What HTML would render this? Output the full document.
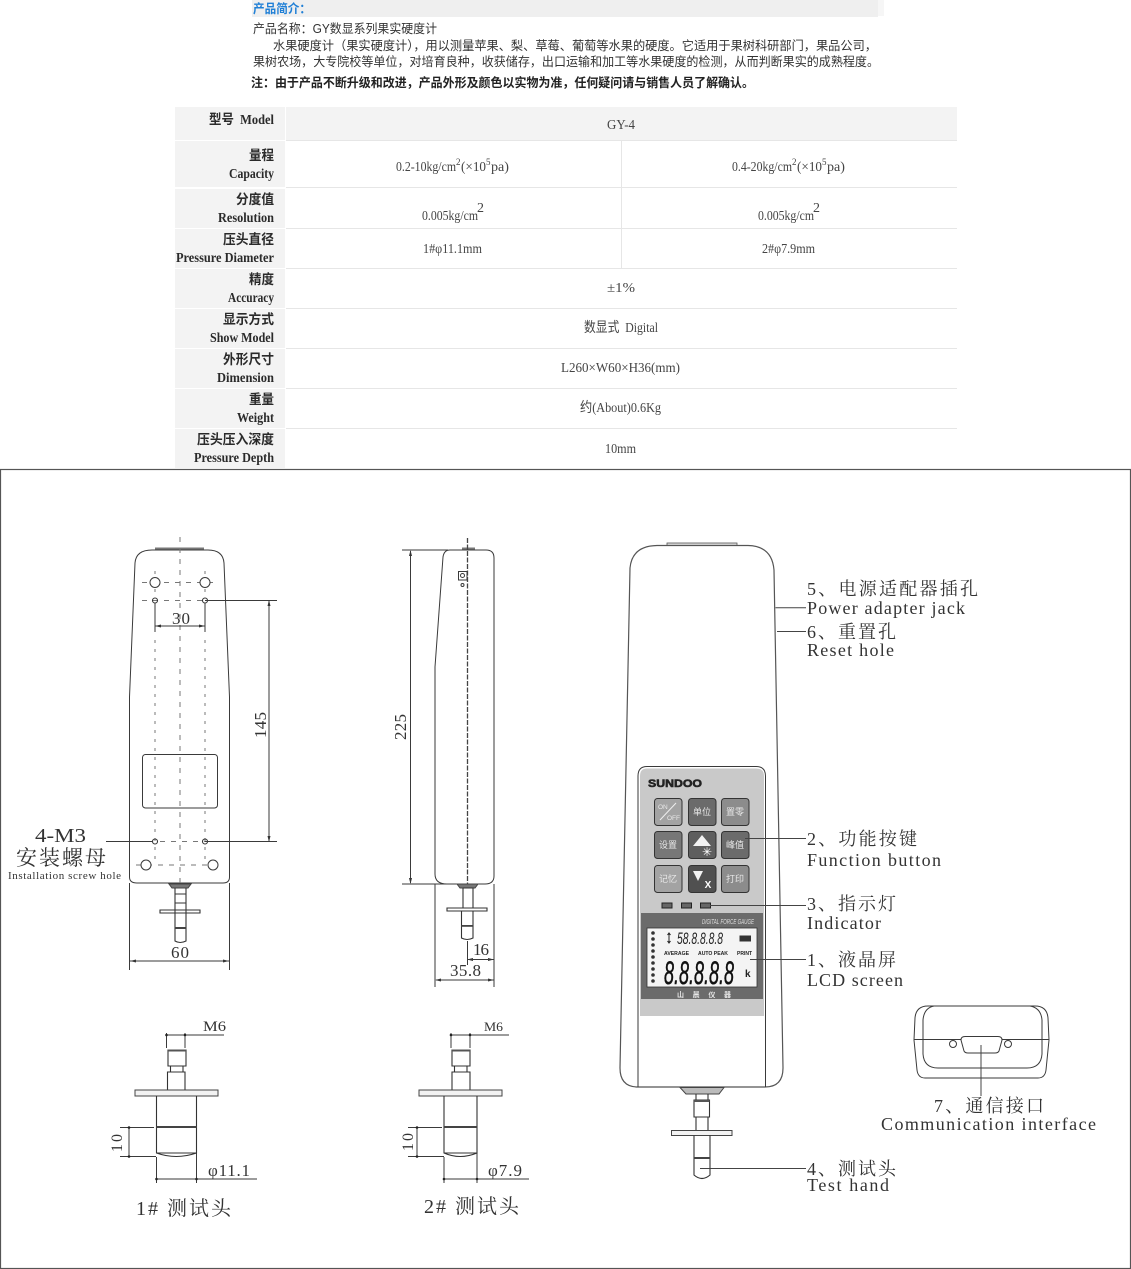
<!DOCTYPE html>
<html><head><meta charset="utf-8"><style>
html,body{margin:0;padding:0;background:#fff}
svg{display:block}
.c{font-family:"Liberation Sans","Noto Sans CJK SC",sans-serif;font-size:12.500px;fill:#333}
.h{font-family:"Liberation Serif","Noto Sans CJK SC",serif;font-weight:bold;font-size:13.500px;fill:#2a2a2a;text-anchor:end}
.v{font-family:"Liberation Serif","Noto Sans CJK SC",serif;font-size:14px;fill:#444}
.d{font-family:"Liberation Serif","Noto Serif CJK SC",serif;font-size:18px;fill:#333}
.l{fill:none;stroke:#3a3a3a;stroke-width:1}
.w{fill:#fff;stroke:#3a3a3a;stroke-width:1}
.t{fill:none;stroke:#333;stroke-width:1.100}
.m{fill:none;stroke:#777;stroke-width:1;stroke-dasharray:5 6}
.n{fill:none;stroke:#777;stroke-width:1;stroke-dasharray:3 6}
.b{font-family:"Liberation Sans","Noto Sans CJK SC",sans-serif;font-size:9px;fill:#e8e8e8;text-anchor:middle}
</style></head><body>
<svg xmlns="http://www.w3.org/2000/svg" width="1131" height="1269" viewBox="0 0 1131 1269">
<rect width="1131" height="1269" fill="#fff"/>

<!-- intro -->
<rect x="252" y="0" width="626" height="17" fill="#efefef"/>
<rect x="878" y="0" width="6" height="16" fill="#f6f6f6"/>
<text x="253" y="13" class="c" style="font-weight:bold;fill:#1f7fd6" textLength="58" lengthAdjust="spacingAndGlyphs">产品简介：</text>
<text x="253" y="33" class="c" textLength="184" lengthAdjust="spacingAndGlyphs">产品名称：GY数显系列果实硬度计</text>
<text x="273" y="50" class="c" textLength="604" lengthAdjust="spacingAndGlyphs">水果硬度计（果实硬度计），用以测量苹果、梨、草莓、葡萄等水果的硬度。它适用于果树科研部门，果品公司，</text>
<text x="253" y="66" class="c" textLength="626" lengthAdjust="spacingAndGlyphs">果树农场，大专院校等单位，对培育良种，收获储存，出口运输和加工等水果硬度的检测，从而判断果实的成熟程度。</text>
<text x="251" y="87" class="c" style="font-weight:bold;fill:#222" textLength="503" lengthAdjust="spacingAndGlyphs">注：由于产品不断升级和改进，产品外形及颜色以实物为准，任何疑问请与销售人员了解确认。</text>

<!-- table -->
<rect x="286" y="107" width="671" height="33" fill="#f3f3f3"/>
<g fill="#f3f3f3">
<rect x="175" y="107" width="110" height="33"/><rect x="175" y="141" width="110" height="46"/><rect x="175" y="189" width="110" height="39"/>
<rect x="175" y="229" width="110" height="39"/><rect x="175" y="269" width="110" height="39"/><rect x="175" y="309" width="110" height="39"/>
<rect x="175" y="349" width="110" height="39"/><rect x="175" y="389" width="110" height="39"/><rect x="175" y="429" width="110" height="39"/>
</g>
<g stroke="#e6e6e6" stroke-width="1">
<path d="M286 140.500H957M286 187.500H957M286 228.500H957M286 268.500H957M286 308.500H957M286 348.500H957M286 388.500H957M286 428.500H957M621.500 141V268"/>
</g>
<text x="274" y="124" class="h" textLength="65" lengthAdjust="spacingAndGlyphs">型号&#160; Model</text>
<text x="274" y="160" class="h" textLength="25" lengthAdjust="spacingAndGlyphs">量程</text>
<text x="274" y="178" class="h" textLength="45" lengthAdjust="spacingAndGlyphs">Capacity</text>
<text x="274" y="204" class="h" textLength="38" lengthAdjust="spacingAndGlyphs">分度值</text>
<text x="274" y="222" class="h" textLength="56" lengthAdjust="spacingAndGlyphs">Resolution</text>
<text x="274" y="244" class="h" textLength="51" lengthAdjust="spacingAndGlyphs">压头直径</text>
<text x="274" y="262" class="h" textLength="98" lengthAdjust="spacingAndGlyphs">Pressure Diameter</text>
<text x="274" y="284" class="h" textLength="25" lengthAdjust="spacingAndGlyphs">精度</text>
<text x="274" y="302" class="h" textLength="46" lengthAdjust="spacingAndGlyphs">Accuracy</text>
<text x="274" y="324" class="h" textLength="51" lengthAdjust="spacingAndGlyphs">显示方式</text>
<text x="274" y="342" class="h" textLength="64" lengthAdjust="spacingAndGlyphs">Show Model</text>
<text x="274" y="364" class="h" textLength="51" lengthAdjust="spacingAndGlyphs">外形尺寸</text>
<text x="274" y="382" class="h" textLength="57" lengthAdjust="spacingAndGlyphs">Dimension</text>
<text x="274" y="404" class="h" textLength="25" lengthAdjust="spacingAndGlyphs">重量</text>
<text x="274" y="422" class="h" textLength="37" lengthAdjust="spacingAndGlyphs">Weight</text>
<text x="274" y="444" class="h" textLength="77" lengthAdjust="spacingAndGlyphs">压头压入深度</text>
<text x="274" y="462" class="h" textLength="80" lengthAdjust="spacingAndGlyphs">Pressure Depth</text>

<text x="607" y="129" class="v" textLength="28" lengthAdjust="spacingAndGlyphs">GY-4</text>
<text x="396" y="171" class="v" textLength="60" lengthAdjust="spacingAndGlyphs">0.2-10kg/cm</text><text x="456" y="165" class="v" style="font-size:9px">2</text><text x="461" y="171" class="v" textLength="25" lengthAdjust="spacingAndGlyphs">(×10</text><text x="486" y="165" class="v" style="font-size:9px">5</text><text x="491" y="171" class="v" textLength="18" lengthAdjust="spacingAndGlyphs">pa)</text>
<text x="732" y="171" class="v" textLength="60" lengthAdjust="spacingAndGlyphs">0.4-20kg/cm</text><text x="792" y="165" class="v" style="font-size:9px">2</text><text x="797" y="171" class="v" textLength="25" lengthAdjust="spacingAndGlyphs">(×10</text><text x="822" y="165" class="v" style="font-size:9px">5</text><text x="827" y="171" class="v" textLength="18" lengthAdjust="spacingAndGlyphs">pa)</text>
<text x="422" y="220" class="v" textLength="56" lengthAdjust="spacingAndGlyphs">0.005kg/cm</text><text x="477" y="212" class="v" style="font-size:14px">2</text>
<text x="758" y="220" class="v" textLength="56" lengthAdjust="spacingAndGlyphs">0.005kg/cm</text><text x="813" y="212" class="v" style="font-size:14px">2</text>
<text x="423" y="253" class="v" textLength="59" lengthAdjust="spacingAndGlyphs">1#φ11.1mm</text>
<text x="762" y="253" class="v" textLength="53" lengthAdjust="spacingAndGlyphs">2#φ7.9mm</text>
<text x="607" y="292" class="v" textLength="28" lengthAdjust="spacingAndGlyphs">±1%</text>
<text x="584" y="332" class="v" textLength="74" lengthAdjust="spacingAndGlyphs">数显式&#160; Digital</text>
<text x="561" y="372" class="v" textLength="119" lengthAdjust="spacingAndGlyphs">L260×W60×H36(mm)</text>
<text x="580" y="412" class="v" textLength="81" lengthAdjust="spacingAndGlyphs">约(About)0.6Kg</text>
<text x="605" y="453" class="v" textLength="31" lengthAdjust="spacingAndGlyphs">10mm</text>

<!-- drawing frame -->
<rect x="0.500" y="469.500" width="1130" height="799" fill="#fff" stroke="#555" stroke-width="1.200"/>

<!-- FRONT BACK VIEW -->
<rect x="155" y="547.500" width="49" height="3" fill="#777"/>
<path class="l" d="M135 563Q136 550 152 550H208Q223 550 224 563L229.500 697V877Q229.500 883 223 883H137Q129.500 883 129.500 877V697Z"/>
<path class="m" d="M180 537V884"/>
<path class="n" d="M155 571V598M205 571V598M155 640V860M205 640V860"/>
<path class="m" d="M142 582.500H218M142 600.500H218M160 841.500H205M136 865H222"/>
<circle cx="155" cy="582.500" r="5" class="w"/><circle cx="205" cy="582.500" r="5" class="w"/>
<circle cx="155" cy="600.500" r="2.500" class="t" fill="#ccc"/><circle cx="205" cy="600.500" r="2.500" class="t"/>
<circle cx="155" cy="841.500" r="2.500" class="t"/><circle cx="205" cy="841.500" r="2.500" class="t"/>
<circle cx="146" cy="865" r="5" class="w"/><circle cx="213" cy="865" r="5" class="w"/>
<rect x="142.500" y="754.500" width="75" height="53.500" rx="3" class="l"/>
<path class="l" d="M205 600.500H277M205 841.500H277M269 601V841M155 603V632M205 603V632M155 626H205M106 841.500H153"/>
<path d="M269 600l-1.500 6h3zM269 842l-1.500-6h3zM155 626l6-1.500v3zM205 626l-6-1.500v3zM130 961l6-1.500v3zM229 961l-6-1.500v3z" fill="#333"/>
<text transform="translate(266,725) rotate(-90)" class="d" style="font-size:17px;text-anchor:middle" textLength="26" lengthAdjust="spacing">145</text>
<text x="172" y="624" class="d" style="font-size:17px" textLength="18">30</text>
<text x="35" y="842" class="d" style="font-size:20px" textLength="51" lengthAdjust="spacingAndGlyphs">4-M3</text>
<text x="16" y="865" class="d" style="font-size:21px" textLength="90" lengthAdjust="spacing">安装螺母</text>
<text x="8" y="879" class="d" style="font-size:11px" textLength="113" lengthAdjust="spacing">Installation screw hole</text>
<path d="M169 884H191L188 888H172Z" fill="#777" stroke="#444"/>
<path class="t" d="M175 888V941Q180 944 186 941V888M160 910H200V913H160ZM175 894H186M175 903H186"/>
<rect x="175" y="927" width="11" height="2" fill="#444"/>
<path class="l" d="M129.500 883V970M229.500 883V970M130 961H229"/>
<text x="171" y="958" class="d" style="font-size:17px" textLength="18">60</text>

<!-- SIDE VIEW -->
<rect x="462" y="547.500" width="13" height="3" fill="#777"/>
<path class="l" d="M443 557Q444 550 450 550H486Q494 550 494 558V876Q494 884 485 884H447Q435 884 435 874V667Z"/>
<path d="M467.500 538V884" fill="none" stroke="#444" stroke-width="1.300" stroke-dasharray="5 1.500"/>
<rect x="458.500" y="571.500" width="8.500" height="8.500" class="l"/><circle cx="462.500" cy="575.500" r="2" class="l"/><circle cx="462.500" cy="585" r="1.500" class="l"/>
<path class="l" d="M402 550H448M402 884H458M410.500 551V883"/>
<path d="M410.500 550l-1.500 6h3zM410.500 884l-1.500-6h3zM467 959.500l6-1.500v3zM494 959.500l-6-1.500v3zM435 980l6-1.500v3zM494 980l-6-1.500v3z" fill="#333"/>
<text transform="translate(406,727) rotate(-90)" class="d" style="font-size:17px;text-anchor:middle" textLength="26" lengthAdjust="spacing">225</text>
<path d="M457 884H478L475 888H460Z" fill="#777" stroke="#444"/>
<path class="t" d="M463 888H473V908M463 888V908M447 908H487V911H447ZM461.500 911V938Q467 941 473 938V911"/>
<rect x="461.500" y="925" width="11.500" height="1.800" fill="#444"/>
<path class="l" d="M467.500 941V965M435 884V987M494 884V987M468 959.500H494M436 980H494"/>
<text x="473" y="955" class="d" style="font-size:17px" textLength="16">16</text>
<text x="450" y="976" class="d" style="font-size:17px" textLength="31">35.8</text>

<!-- PROBE 1 -->
<g>
<path class="l" d="M166.500 1033V1048M185 1033V1048M166 1035H224M156.500 1157V1183M196.500 1153V1183M156 1179H257M120 1127.500H154M120 1156.500H156M129 1128V1156"/>
<circle cx="166.500" cy="1035" r="1.300" fill="#222"/><circle cx="185" cy="1035" r="1.300" fill="#222"/><circle cx="129" cy="1127.500" r="1.300" fill="#222"/><circle cx="129" cy="1156.500" r="1.300" fill="#222"/><circle cx="156.500" cy="1179" r="1.300" fill="#222"/><circle cx="196.500" cy="1179" r="1.300" fill="#222"/>
<path class="t" d="M168 1050H186V1066H168ZM170.500 1066V1072M183 1066V1072M167.500 1072H185V1090H167.500Z"/>
<rect x="168" y="1049.500" width="18" height="2" fill="#555"/>
<rect x="135" y="1090" width="83" height="6" fill="#f2f2f2" stroke="#444"/>
<path class="t" d="M156.500 1096V1153Q176 1160 196.500 1153V1096M156.500 1153H196.500"/>
<rect x="156.500" y="1126" width="40" height="2" fill="#444"/>
<text x="203" y="1031" class="d" style="font-size:15px" textLength="23" lengthAdjust="spacingAndGlyphs">M6</text>
<text transform="translate(122,1143) rotate(-90)" class="d" style="font-size:16px;text-anchor:middle" textLength="18">10</text>
<text x="208" y="1176" class="d" style="font-size:17px" textLength="42">φ11.1</text>
<text x="136" y="1215" class="d" style="font-size:20px" textLength="95" lengthAdjust="spacing">1# 测试头</text>
</g>

<!-- PROBE 2 -->
<g>
<path class="l" d="M451 1033V1048M470 1033V1048M451 1035H509M444 1157V1183M477 1153V1183M444 1179H529M408 1127.500H442M408 1156.500H444M417 1128V1156"/>
<circle cx="451" cy="1035" r="1.300" fill="#222"/><circle cx="470" cy="1035" r="1.300" fill="#222"/><circle cx="417" cy="1127.500" r="1.300" fill="#222"/><circle cx="417" cy="1156.500" r="1.300" fill="#222"/><circle cx="444" cy="1179" r="1.300" fill="#222"/><circle cx="477" cy="1179" r="1.300" fill="#222"/>
<path class="t" d="M452 1050H470V1066H452ZM454.500 1066V1072M467 1066V1072M452 1072H470V1090H452Z"/>
<rect x="452" y="1049.500" width="18" height="2" fill="#555"/>
<rect x="419" y="1090" width="83" height="6" fill="#f2f2f2" stroke="#444"/>
<path class="t" d="M444 1096V1153Q460 1160 477 1153V1096M444 1153H477"/>
<rect x="444" y="1126" width="33" height="2" fill="#444"/>
<text x="484" y="1031" class="d" style="font-size:13px" textLength="19" lengthAdjust="spacingAndGlyphs">M6</text>
<text transform="translate(413,1142) rotate(-90)" class="d" style="font-size:16px;text-anchor:middle" textLength="18">10</text>
<text x="488" y="1176" class="d" style="font-size:17px" textLength="34">φ7.9</text>
<text x="424" y="1213" class="d" style="font-size:20px" textLength="95" lengthAdjust="spacing">2# 测试头</text>
</g>

<!-- MAIN DEVICE -->
<rect x="667" y="543" width="70" height="3" fill="#ddd" stroke="#555" stroke-width="0.800"/>
<path d="M630 568Q632 546 657 545.500H748Q772 546 774 570L783 1068Q783 1087 765 1087H638Q620 1087 620 1068Z" fill="#fff" stroke="#555" stroke-width="1.200"/>
<path class="l" d="M638 1087V776Q638 766.500 647 766.500H756Q765.500 766.500 765.500 776V1087"/>
<path d="M640 776Q640 768.500 647 768.500H756Q764 768.500 764 776V1016H640Z" fill="#c9c9c9"/>
<text x="648" y="787" style="font-family:'Liberation Sans',sans-serif;font-weight:bold;font-size:11px;fill:#222;stroke:#222;stroke-width:.6" textLength="54" lengthAdjust="spacingAndGlyphs">SUNDOO</text>

<g stroke="#333" stroke-width="1">
<rect x="654.500" y="798.500" width="27.500" height="27" rx="3" fill="#a3a3a3"/>
<rect x="688.500" y="798.500" width="27.500" height="27" rx="3" fill="#6b6b6b"/>
<rect x="721.500" y="798.500" width="27.500" height="27" rx="3" fill="#8c8c8c"/>
<rect x="654.500" y="831.500" width="27.500" height="27" rx="3" fill="#777"/>
<rect x="688.500" y="831.500" width="27.500" height="27" rx="3" fill="#5e5e5e"/>
<rect x="721.500" y="831.500" width="27.500" height="27" rx="3" fill="#6b6b6b"/>
<rect x="654.500" y="865.500" width="27.500" height="27" rx="3" fill="#a3a3a3"/>
<rect x="688.500" y="865.500" width="27.500" height="27" rx="3" fill="#505050"/>
<rect x="721.500" y="865.500" width="27.500" height="27" rx="3" fill="#8c8c8c"/>
</g>
<path d="M660 820L676 803" stroke="#eee" stroke-width="1"/>
<text x="658" y="809" class="b" style="font-size:6.500px;text-anchor:start">ON</text>
<text x="667" y="820" class="b" style="font-size:6.500px;text-anchor:start">OFF</text>
<text x="702" y="815" class="b">单位</text><text x="735" y="815" class="b">置零</text>
<text x="668" y="848" class="b">设置</text><text x="735" y="848" class="b">峰值</text>
<text x="668" y="882" class="b">记忆</text><text x="735" y="882" class="b">打印</text>
<path d="M693 846L702 835L711 846Z" fill="#f2f2f2"/>
<text x="707" y="856" class="b" style="font-size:12px;fill:#fff">✳</text>
<path d="M693 871H703L698 881Z" fill="#f2f2f2"/>
<text x="708" y="888" class="b" style="font-size:10px;font-weight:bold;fill:#fff">X</text>

<rect x="662" y="903" width="10" height="5" fill="#666" stroke="#222"/>
<rect x="681.500" y="903" width="10" height="5" fill="#666" stroke="#222"/>
<rect x="700.500" y="903" width="10" height="5" fill="#666" stroke="#222"/>
<rect x="641" y="913" width="122" height="86" fill="#6b6b6b"/>
<text x="702" y="924" style="font-family:'Liberation Sans',sans-serif;font-style:italic;font-size:7px;fill:#ddd" textLength="52" lengthAdjust="spacingAndGlyphs">DIGITAL FORCE GAUGE</text>
<rect x="647" y="928" width="110" height="59" fill="#f4f4f4" stroke="#333" stroke-width="0.800"/>
<g fill="#333"><circle cx="653" cy="933" r="1.800"/><circle cx="653" cy="939" r="1.800"/><circle cx="653" cy="945" r="1.800"/><circle cx="653" cy="951" r="1.800"/><circle cx="653" cy="957" r="1.800"/><circle cx="653" cy="963" r="1.800"/><circle cx="653" cy="969" r="1.800"/><circle cx="653" cy="975" r="1.800"/><circle cx="653" cy="981" r="1.800"/></g>
<text x="677" y="944" style="font-family:'Liberation Sans',sans-serif;font-style:italic;font-size:17px;fill:#222" textLength="46" lengthAdjust="spacingAndGlyphs">58.8.8.8.8</text>
<path d="M669 933V943M667.500 935L669 933L670.500 935M667.500 941L669 943L670.500 941" stroke="#222" fill="none"/>
<rect x="739.500" y="935.500" width="11.500" height="6" fill="#333"/>
<text x="664" y="955" style="font-family:'Liberation Sans',sans-serif;font-weight:bold;font-size:5px;fill:#222" textLength="25" lengthAdjust="spacingAndGlyphs">AVERAGE</text>
<text x="698" y="955" style="font-family:'Liberation Sans',sans-serif;font-weight:bold;font-size:5px;fill:#222" textLength="30" lengthAdjust="spacingAndGlyphs">AUTO PEAK</text>
<text x="737" y="955" style="font-family:'Liberation Sans',sans-serif;font-weight:bold;font-size:5px;fill:#222" textLength="15" lengthAdjust="spacingAndGlyphs">PRINT</text>
<text x="664" y="984" style="font-family:'Liberation Sans',sans-serif;font-style:italic;font-size:32px;fill:#111;stroke:#111;stroke-width:.5" textLength="70" lengthAdjust="spacingAndGlyphs">8.8.8.8.8</text>
<text x="745" y="977" style="font-family:'Liberation Sans',sans-serif;font-weight:bold;font-size:10px;fill:#222">k</text>
<text x="704" y="997" class="b" style="font-size:7px;font-weight:bold" textLength="54" lengthAdjust="spacing">山 晨 仪 器</text>

<!-- device probe -->
<path d="M680 1087.500H724L719 1094H686Z" fill="#bbb" stroke="#444"/>
<path class="t" d="M694 1100H709.500V1117H694ZM696 1117V1130M708 1117V1130M696 1094V1100M708 1094V1100"/>
<rect x="694" y="1100" width="15.500" height="2" fill="#555"/>
<rect x="671.500" y="1130.500" width="60.500" height="5" fill="#f2f2f2" stroke="#444"/>
<path class="t" d="M694 1135.500V1175Q702 1182 710 1175V1135.500"/>
<rect x="694" y="1157" width="16" height="2" fill="#444"/>

<!-- leaders -->
<path d="M775.500 607.700H806M777 631.500H806M745 838.500H806M710 905.500H806M750 959.500H806M700 1168.500H806" fill="none" stroke="#444" stroke-width="1"/>

<!-- leader labels -->
<text x="807" y="595" class="d" textLength="171" lengthAdjust="spacing">5、电源适配器插孔</text>
<text x="807" y="614" class="d" textLength="158" lengthAdjust="spacing">Power adapter jack</text>
<text x="807" y="638" class="d" textLength="89" lengthAdjust="spacing">6、重置孔</text>
<text x="807" y="656" class="d" textLength="87" lengthAdjust="spacing">Reset hole</text>
<text x="807" y="845" class="d" textLength="110" lengthAdjust="spacing">2、功能按键</text>
<text x="807" y="866" class="d" textLength="134" lengthAdjust="spacing">Function button</text>
<text x="807" y="910" class="d" textLength="89" lengthAdjust="spacing">3、指示灯</text>
<text x="807" y="929" class="d" textLength="74" lengthAdjust="spacing">Indicator</text>
<text x="807" y="966" class="d" textLength="89" lengthAdjust="spacing">1、液晶屏</text>
<text x="807" y="986" class="d" textLength="96" lengthAdjust="spacing">LCD screen</text>
<text x="807" y="1175" class="d" textLength="89" lengthAdjust="spacing">4、测试头</text>
<text x="807" y="1191" class="d" textLength="82" lengthAdjust="spacing">Test hand</text>
<text x="934" y="1112" class="d" textLength="110" lengthAdjust="spacing">7、通信接口</text>
<text x="881" y="1130" class="d" textLength="215" lengthAdjust="spacing">Communication interface</text>

<!-- connector -->
<path class="l" d="M928 1006H1035Q1047 1006 1048 1018L1049 1040L1046 1070Q1045 1078 1038 1078H925Q918 1078 917 1070L914 1040L915 1018Q916 1006 928 1006Z"/>
<path class="l" d="M934 1006Q924 1008 923 1020V1054Q924 1068 938 1068H1027Q1041 1068 1042 1054V1020Q1041 1008 1030 1006M914 1039.500H1049"/>
<path d="M965 1036.500H998Q1002 1036.500 1002 1040L999 1051Q998 1053 995 1053H968Q965 1053 964 1051L961 1040Q961 1036.500 965 1036.500Z" fill="#fff" stroke="#3a3a3a"/>
<circle cx="953" cy="1044" r="3.500" class="w"/><circle cx="1008" cy="1044" r="3.500" class="w"/>
<path d="M981 1045V1096" fill="none" stroke="#444" stroke-width="1"/>
</svg>
</body></html>
